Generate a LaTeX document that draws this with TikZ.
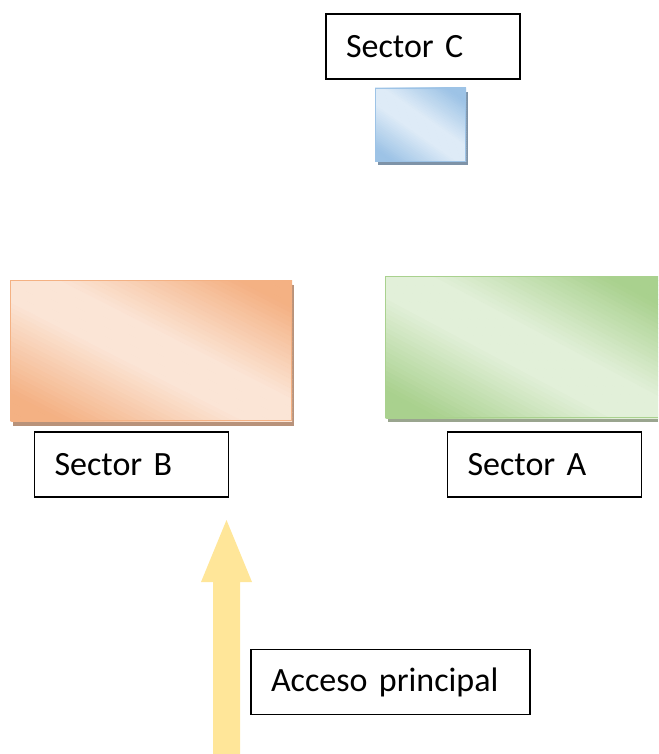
\documentclass[tikz,border=0pt]{standalone}
\usepackage{fontspec}
\setmainfont{Carlito}
\definecolor{orD}{HTML}{F4B183}
\definecolor{orL}{HTML}{FBE5D6}
\definecolor{grD}{HTML}{A9D18E}
\definecolor{grL}{HTML}{E2F0D9}
\definecolor{blD}{HTML}{9DC3E6}
\definecolor{blL}{HTML}{DEEBF7}
\definecolor{arrowY}{HTML}{FFE699}
\definecolor{orS}{HTML}{B8927A}
\definecolor{grS}{HTML}{9AA58F}
\definecolor{blS}{HTML}{7E93A8}
\tikzset{
  labelbox/.style={draw=black, line width=1.5pt, fill=white, minimum width=194pt, minimum height=65pt,
    text width=154pt, inner xsep=20pt, align=left, font=\fontsize{34pt}{40pt}\selectfont},
}
% cx cy w h dark light angle
\newcommand\gradrect[7]{%
 \begin{scope}
 \clip (#1-#3/2,#2-#4/2) rectangle (#1+#3/2,#2+#4/2);
 \pgfmathsetmacro\gE{(#3*abs(cos(#7))+#4*abs(sin(#7)))/2}
 \pgfmathsetmacro\gR{50*sqrt((#3/100)*(#3/100)+(#4/100)*(#4/100))+2}
 \begin{scope}[shift={(#1,#2)}, rotate=#7]
 \foreach \i in {-30,...,29}{
   \pgfmathsetmacro\gt{abs(\i+0.5)/30}
   \pgfmathtruncatemacro\gp{100*min(1,max(0,(\gt-0.15)/0.65))}
   \fill[#5!\gp!#6] ({\i*\gE/30},-\gR) rectangle ({(\i+1)*\gE/30+0.6},\gR);
 }
 \end{scope}
 \end{scope}}
\begin{document}
\begin{tikzpicture}[x=1pt,y=1pt]
\useasboundingbox (0,0) rectangle (658,-754);
% Sector C
\node[labelbox] (secC) at (423,-46.5) {Sector C};
% blue square
\fill[blS] (378,-92) rectangle (468,-165);
\gradrect{420.5}{-125}{91}{74}{blD}{blL}{55}
\draw[blD, line width=1.2pt] (375.6,-88.6) rectangle (465.4,-161.4);
% orange rect
\fill[orS] (13,-285) rectangle (293.5,-426);
\gradrect{151}{-350.5}{282}{141}{orD}{orL}{63}
\draw[orD, line width=1.2pt] (10.6,-280.6) rectangle (291.4,-420.4);
% green rect
\fill[grS] (388,-282) rectangle (658,-422);
\gradrect{521.5}{-347}{273}{142}{grD}{grL}{62}
\draw[grD, line width=1.2pt] (658,-276.6) -- (385.6,-276.6) -- (385.6,-417.4) -- (658,-417.4);
% labels
\node[labelbox] (secB) at (131.5,-464.5) {Sector B};
\node[labelbox] (secA) at (544.5,-464.5) {Sector A};
% arrow
\fill[arrowY] (213,-754) -- (213,-582) -- (201,-582) -- (226.5,-520) -- (252,-582) -- (240,-582) -- (240,-754) -- cycle;
\node[labelbox, minimum width=279pt, text width=239pt] (acc) at (390.5,-682) {Acceso principal};
\end{tikzpicture}
\end{document}
